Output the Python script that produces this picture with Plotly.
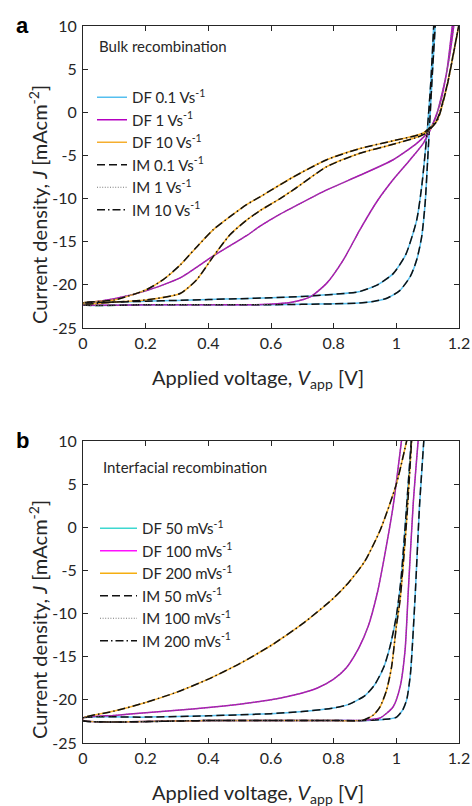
import plotly.graph_objects as go

# ---------------- Panel a: bulk recombination (V in volts, J in mA cm^-2) ----------------
A_LABELS_DF = ["DF 0.1 Vs<sup>-1</sup>", "DF 1 Vs<sup>-1</sup>", "DF 10 Vs<sup>-1</sup>"]
A_LABELS_IM = ["IM 0.1 Vs<sup>-1</sup>", "IM 1 Vs<sup>-1</sup>", "IM 10 Vs<sup>-1</sup>"]

a01_V1 = [0, 0.1, 0.2, 0.3, 0.4, 0.5, 0.6, 0.7, 0.8, 0.88, 0.94, 0.99, 1.03, 1.065, 1.081, 1.09, 1.10, 1.11, 1.12]
a01_J1 = [-22.1, -22.0, -21.9, -21.8, -21.7, -21.6, -21.5, -21.35, -21.1, -20.8, -20.0, -18.7, -16.5, -12.5, -8.6, -5.5, -1.5, 3.5, 10.5]
a01_V2 = [0, 0.2, 0.4, 0.6, 0.8, 0.88, 0.93, 0.97, 1.01, 1.045, 1.065, 1.081, 1.092, 1.10, 1.107, 1.115, 1.125]
a01_J2 = [-22.3, -22.3, -22.3, -22.3, -22.2, -22.1, -21.9, -21.55, -20.7, -19.0, -17.1, -14.4, -10.5, -5.5, -0.9, 4.5, 10.5]

a1_V1 = [0, 0.2, 0.4, 0.55, 0.62, 0.67, 0.725, 0.778, 0.831, 0.884, 0.937, 0.99, 1.044, 1.086, 1.11, 1.13, 1.16, 1.18]
a1_J1 = [-22.3, -22.3, -22.3, -22.3, -22.2, -22.0, -21.4, -19.8, -17.1, -13.6, -10.4, -7.8, -5.5, -3.6, -1.9, -0.1, 4.5, 10.5]
a1_V2 = [0, 0.05, 0.1, 0.2, 0.31, 0.416, 0.522, 0.565, 0.629, 0.671, 0.778, 0.884, 0.99, 1.065, 1.107, 1.14, 1.171, 1.185]
a1_J2 = [-22.2, -21.9, -21.6, -20.7, -19.2, -16.65, -14.3, -13.2, -11.8, -11.0, -9.0, -7.3, -5.5, -3.6, -2.05, 1.05, 6.8, 10.5]

a10_V1 = [0, 0.1, 0.2, 0.256, 0.31, 0.363, 0.416, 0.469, 0.522, 0.565, 0.671, 0.778, 0.884, 0.99, 1.086, 1.129, 1.161, 1.182, 1.2]
a10_J1 = [-22.1, -21.75, -20.6, -19.4, -17.7, -15.6, -13.6, -12.1, -10.7, -9.8, -7.5, -5.5, -4.2, -3.3, -2.4, -0.9, 3.0, 6.8, 10.2]
a10_V2 = [0, 0.1, 0.2, 0.31, 0.363, 0.416, 0.469, 0.522, 0.565, 0.629, 0.671, 0.778, 0.884, 0.99, 1.086, 1.13, 1.161, 1.182, 1.2]
a10_J2 = [-22.2, -22.0, -21.75, -21.0, -19.4, -16.7, -14.2, -12.5, -11.4, -10.0, -9.0, -6.3, -4.75, -3.7, -2.6, -1.0, 2.9, 6.7, 10.2]

# ---------------- Panel b: interfacial recombination ----------------
B_LABELS_DF = ["DF 50 mVs<sup>-1</sup>", "DF 100 mVs<sup>-1</sup>", "DF 200 mVs<sup>-1</sup>"]
B_LABELS_IM = ["IM 50 mVs<sup>-1</sup>", "IM 100 mVs<sup>-1</sup>", "IM 200 mVs<sup>-1</sup>"]

b50_V1 = [0, 0.2, 0.4, 0.6, 0.7, 0.8, 0.85, 0.9, 0.93, 0.96, 0.98, 1.0, 1.015, 1.03, 1.048]
b50_J1 = [-22.1, -22.0, -21.85, -21.6, -21.35, -20.95, -20.5, -19.5, -18.3, -16.2, -13.8, -10.3, -6.0, 1.0, 10.2]
b50_V2 = [0, 0.4, 0.8, 0.9, 0.95, 0.98, 1.001, 1.02, 1.033, 1.045, 1.06, 1.074, 1.088]
b50_J2 = [-22.4, -22.4, -22.4, -22.4, -22.3, -22.2, -22.0, -21.2, -20.0, -17.0, -8.0, 2.5, 10.2]

b100_V1 = [0, 0.1, 0.2, 0.3, 0.4, 0.5, 0.6, 0.7, 0.75, 0.8, 0.84, 0.88, 0.91, 0.94, 0.96, 0.99, 1.017]
b100_J1 = [-22.1, -21.8, -21.5, -21.2, -20.9, -20.5, -20.0, -19.2, -18.6, -17.6, -16.3, -14.0, -11.5, -7.5, -3.8, 2.5, 10.2]
b100_V2 = [0, 0.4, 0.8, 0.9, 0.948, 0.99, 1.012, 1.028, 1.038, 1.054, 1.07]
b100_J2 = [-22.4, -22.4, -22.4, -22.35, -22.1, -20.8, -18.5, -14.2, -7.5, 2.8, 10.2]

b200_V1 = [0, 0.1, 0.2, 0.3, 0.4, 0.5, 0.6, 0.7, 0.8, 0.85, 0.9, 0.95, 1.0, 1.036]
b200_J1 = [-22.1, -21.3, -20.3, -19.1, -17.6, -15.8, -13.7, -11.2, -8.2, -6.3, -3.9, -0.2, 5.0, 10.5]
b200_V2 = [0, 0.4, 0.8, 0.894, 0.927, 0.948, 0.969, 0.985, 1.0, 1.012, 1.033, 1.049]
b200_J2 = [-22.4, -22.4, -22.4, -22.35, -21.75, -20.8, -18.85, -16.15, -11.5, -8.4, 0.85, 10.2]

X_TICKS = [0, 0.2, 0.4, 0.6, 0.8, 1.0, 1.2]
X_TICKTEXT = ["0", "0.2", "0.4", "0.6", "0.8", "1", "1.2"]
Y_TICKS = [-25, -20, -15, -10, -5, 0, 5, 10]
Y_TICKTEXT = ["-25", "-20", "-15", "-10", "-5", "0", "5", "10"]

X_TITLE = "Applied voltage, <i>V</i><sub>app</sub> [V]"
Y_TITLE = "Current density, <i>J</i> [mAcm<sup>-2</sup>]"

# ---------------- styles ----------------
FONT = "Lato"
TXT = "#262626"
CURVE_COLORS = ["#55BFEF", "#B400C0", "#F5AE2E"]
A_LEG_COLORS = ["#55BFEF", "#C000C8", "#F5B238"]
B_LEG_COLORS = ["#3DD8D0", "#FF10FF", "#F5AE10"]
IM_STYLES = [
    dict(color="#111111", width=1.5, dash="8px,4px"),
    dict(color="#777777", width=1.2, dash="1px,1.6px"),
    dict(color="#111111", width=1.5, dash="8px,3px,1.5px,3px"),
]


def loop(V1, J1, V2, J2):
    return V1[::-1] + V2, J1[::-1] + J2


W, H = 472, 806
def px(x):
    return x / W
def py(y):
    return 1 - y / H

fig = go.Figure()

panels = [
    dict(xa="x", ya="y", leg="legend",
         series=[(a01_V1, a01_J1, a01_V2, a01_J2), (a1_V1, a1_J1, a1_V2, a1_J2), (a10_V1, a10_J1, a10_V2, a10_J2)],
         df_labels=A_LABELS_DF, im_labels=A_LABELS_IM, leg_colors=A_LEG_COLORS, proxies=False),
    dict(xa="x2", ya="y2", leg="legend2",
         series=[(b50_V1, b50_J1, b50_V2, b50_J2), (b100_V1, b100_J1, b100_V2, b100_J2), (b200_V1, b200_J1, b200_V2, b200_J2)],
         df_labels=B_LABELS_DF, im_labels=B_LABELS_IM, leg_colors=B_LEG_COLORS, proxies=True),
]

for p in panels:
    for i, s in enumerate(p["series"]):
        xs, ys = loop(*s)
        fig.add_trace(go.Scatter(x=xs, y=ys, mode="lines", xaxis=p["xa"], yaxis=p["ya"],
                                 line=dict(color=CURVE_COLORS[i], width=1.5, shape="spline", smoothing=0.6),
                                 name=p["df_labels"][i], legend=p["leg"],
                                 showlegend=not p["proxies"], hoverinfo="skip"))
    if p["proxies"]:
        for i in range(3):
            fig.add_trace(go.Scatter(x=[None], y=[None], mode="lines", xaxis=p["xa"], yaxis=p["ya"],
                                     line=dict(color=p["leg_colors"][i], width=1.5),
                                     name=p["df_labels"][i], legend=p["leg"], showlegend=True))
    for i, s in enumerate(p["series"]):
        xs, ys = loop(*s)
        fig.add_trace(go.Scatter(x=xs, y=ys, mode="lines", xaxis=p["xa"], yaxis=p["ya"],
                                 line=dict(shape="spline", smoothing=0.6, **IM_STYLES[i]),
                                 name=p["im_labels"][i], legend=p["leg"], hoverinfo="skip"))

axis_common = dict(showline=True, mirror="ticks", linecolor="#262626", linewidth=1,
                   ticks="inside", ticklen=5, tickcolor="#262626", showgrid=False, zeroline=False,
                   automargin=False, tickfont=dict(family=FONT, size=16, color=TXT))

xdom = [px(83), px(459)]
TITLE_FONT = dict(family=FONT, size=20, color=TXT)
LEG_FONT = dict(family=FONT, size=15, color=TXT)

fig.update_layout(
    width=W, height=H, margin=dict(l=0, r=0, t=0, b=0, autoexpand=False),
    paper_bgcolor="white", plot_bgcolor="white",
    font=dict(family=FONT, color=TXT),
    xaxis=dict(domain=xdom, range=[0, 1.2], tickvals=X_TICKS, ticktext=X_TICKTEXT, anchor="y",
               ticklabelstandoff=1, **axis_common),
    yaxis=dict(domain=[py(328), py(26)], range=[-25, 10], tickvals=Y_TICKS, ticktext=Y_TICKTEXT, anchor="x",
               ticklabelstandoff=2, **axis_common),
    xaxis2=dict(domain=xdom, range=[0, 1.2], tickvals=X_TICKS, ticktext=X_TICKTEXT, anchor="y2",
                ticklabelstandoff=1, **axis_common),
    yaxis2=dict(domain=[py(743), py(441)], range=[-25, 10], tickvals=Y_TICKS, ticktext=Y_TICKTEXT, anchor="x2",
                ticklabelstandoff=2, **axis_common),
    legend=dict(x=px(92), y=py(81), xanchor="left", yanchor="top", bgcolor="rgba(0,0,0,0)",
                font=LEG_FONT, itemwidth=30, tracegroupgap=0),
    legend2=dict(x=px(95), y=py(512), xanchor="left", yanchor="top", bgcolor="rgba(0,0,0,0)",
                 font=LEG_FONT, itemwidth=37, tracegroupgap=0),
    showlegend=True,
    annotations=[
        dict(text="Bulk recombination", x=px(97), y=py(46), xref="paper", yref="paper",
             xanchor="left", yanchor="middle", showarrow=False, font=LEG_FONT),
        dict(text="Interfacial recombination", x=px(101), y=py(467), xref="paper", yref="paper",
             xanchor="left", yanchor="middle", showarrow=False, font=LEG_FONT),
        dict(text="<b>a</b>", x=px(22), y=py(25), xref="paper", yref="paper",
             xanchor="center", yanchor="middle", showarrow=False, font=dict(family="Liberation Sans", size=22, color="black")),
        dict(text="<b>b</b>", x=px(22), y=py(440), xref="paper", yref="paper",
             xanchor="center", yanchor="middle", showarrow=False, font=dict(family="Liberation Sans", size=22, color="black")),
        # axis titles
        dict(text=X_TITLE, x=px(258), y=py(379), xref="paper", yref="paper",
             xanchor="center", yanchor="middle", showarrow=False, font=TITLE_FONT),
        dict(text=X_TITLE, x=px(258), y=py(793), xref="paper", yref="paper",
             xanchor="center", yanchor="middle", showarrow=False, font=TITLE_FONT),
        dict(text=Y_TITLE, x=px(38), y=py(205), xref="paper", yref="paper", textangle=-90,
             xanchor="center", yanchor="middle", showarrow=False, font=TITLE_FONT),
        dict(text=Y_TITLE, x=px(38), y=py(620), xref="paper", yref="paper", textangle=-90,
             xanchor="center", yanchor="middle", showarrow=False, font=TITLE_FONT),
    ],
)

fig.write_html("out.html")
